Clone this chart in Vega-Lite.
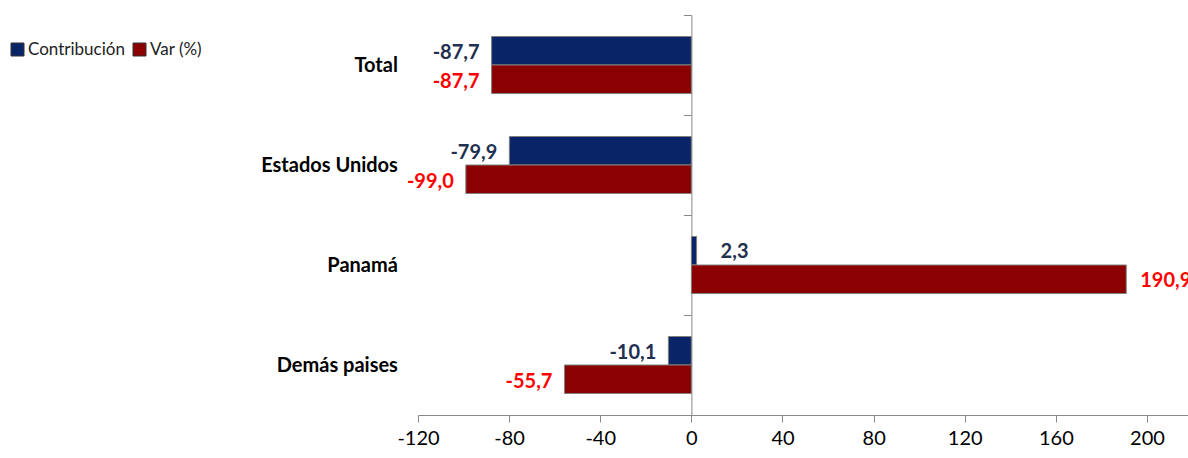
{
  "$schema": "https://vega.github.io/schema/vega-lite/v6.json",
  "width": 770,
  "height": 400,
  "autosize": {"type": "none"},
  "padding": {"left": 418, "top": 15, "right": 0, "bottom": 43},
  "background": "white",
  "config": {
    "view": {"stroke": null},
    "font": "Lato",
    "locale": {"number": {"decimal": ",", "thousands": ".", "grouping": [3], "currency": ["", ""], "minus": "-"}}
  },
  "data": {
    "values": [
      {"pais": "Total", "serie": "Contribución", "valor": -87.7},
      {"pais": "Total", "serie": "Var (%)", "valor": -87.7},
      {"pais": "Estados Unidos", "serie": "Contribución", "valor": -79.9},
      {"pais": "Estados Unidos", "serie": "Var (%)", "valor": -99.0},
      {"pais": "Panamá", "serie": "Contribución", "valor": 2.3},
      {"pais": "Panamá", "serie": "Var (%)", "valor": 190.9},
      {"pais": "Demás paises", "serie": "Contribución", "valor": -10.1},
      {"pais": "Demás paises", "serie": "Var (%)", "valor": -55.7}
    ]
  },
  "encoding": {
    "y": {
      "field": "pais",
      "type": "nominal",
      "sort": ["Total", "Estados Unidos", "Panamá", "Demás paises"],
      "scale": {"paddingInner": 0.43, "paddingOuter": 0.215},
      "axis": {
        "title": null,
        "offset": -273.4,
        "bandPosition": 0,
        "tickOffset": -21.5,
        "labelOffset": 21.5,
        "tickSize": 8,
        "labelPadding": 286,
        "domainColor": "#888888",
        "tickColor": "#888888",
        "labelFont": "Lato",
        "labelFontSize": 20,
        "labelFontWeight": "bold",
        "labelColor": "black",
        "grid": false
      }
    },
    "yOffset": {"field": "serie", "type": "nominal", "sort": ["Contribución", "Var (%)"]},
    "x": {
      "field": "valor",
      "type": "quantitative",
      "scale": {"domain": [-120, 218], "nice": false, "zero": false},
      "axis": {
        "title": null,
        "values": [-120, -80, -40, 0, 40, 80, 120, 160, 200],
        "format": "d",
        "labelFlush": false,
        "tickSize": 7,
        "labelFont": "Lato",
        "labelFontSize": 20,
        "labelColor": "black",
        "labelPadding": 6,
        "domainColor": "#888888",
        "tickColor": "#888888",
        "grid": false
      }
    }
  },
  "layer": [
    {
      "mark": {"type": "bar", "stroke": "#808080", "strokeWidth": 1},
      "encoding": {
        "color": {
          "field": "serie",
          "type": "nominal",
          "scale": {"domain": ["Contribución", "Var (%)"], "range": ["#0A2567", "#8B0000"]},
          "legend": {
            "title": null,
            "orient": "none",
            "legendX": -409,
            "legendY": 26,
            "direction": "horizontal",
            "symbolType": "square",
            "symbolSize": 169,
            "symbolStrokeColor": "#333333",
            "symbolStrokeWidth": 1,
            "labelFont": "Lato",
            "labelFontSize": 17,
            "labelColor": "#222222",
            "columnPadding": 6,
            "labelOffset": 2
          }
        }
      }
    },
    {
      "transform": [{"filter": "datum.serie === 'Contribución' && datum.valor < 0"}],
      "mark": {"type": "text", "align": "right", "baseline": "middle", "dx": -12, "dy": 2, "fontSize": 20, "fontWeight": "bold", "color": "#1F3050", "font": "Lato"},
      "encoding": {"text": {"field": "valor", "type": "quantitative", "format": ".1f"}}
    },
    {
      "transform": [{"filter": "datum.serie === 'Contribución' && datum.valor >= 0"}],
      "mark": {"type": "text", "align": "left", "baseline": "middle", "dx": 24, "dy": 1, "fontSize": 20, "fontWeight": "bold", "color": "#1F3050", "font": "Lato"},
      "encoding": {"text": {"field": "valor", "type": "quantitative", "format": ".1f"}}
    },
    {
      "transform": [{"filter": "datum.serie === 'Var (%)' && datum.valor < 0"}],
      "mark": {"type": "text", "align": "right", "baseline": "middle", "dx": -12, "dy": 3, "fontSize": 20, "fontWeight": "bold", "color": "#FF0000", "font": "Lato"},
      "encoding": {"text": {"field": "valor", "type": "quantitative", "format": ".1f"}}
    },
    {
      "transform": [{"filter": "datum.serie === 'Var (%)' && datum.valor >= 0"}],
      "mark": {"type": "text", "align": "left", "baseline": "middle", "dx": 14, "dy": 2, "fontSize": 20, "fontWeight": "bold", "color": "#FF0000", "font": "Lato"},
      "encoding": {"text": {"field": "valor", "type": "quantitative", "format": ".1f"}}
    }
  ]
}
